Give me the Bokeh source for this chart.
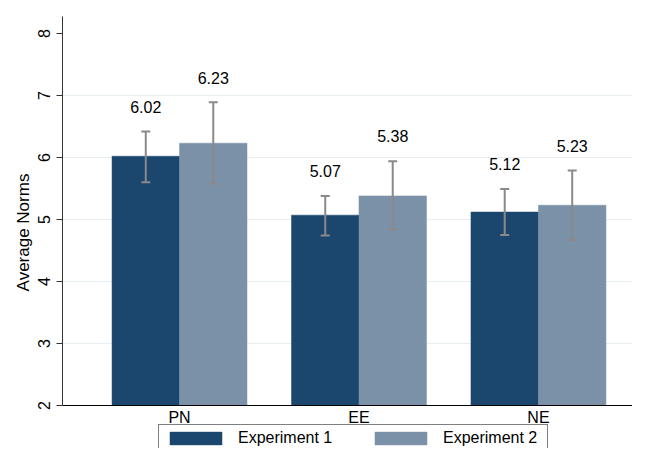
from bokeh.plotting import figure
from bokeh.models import (ColumnDataSource, Range1d, FixedTicker, Legend, LegendItem,
                          Whisker, LabelSet)
from bokeh.core.properties import value
from bokeh.embed import file_html
from bokeh.resources import INLINE

categories = ["PN", "EE", "NE"]
exp1_mean = [6.02, 5.07, 5.12]
exp1_lower = [5.60, 4.74, 4.75]
exp1_upper = [6.42, 5.38, 5.49]
exp2_mean = [6.23, 5.38, 5.23]
exp2_lower = [5.58, 4.84, 4.67]
exp2_upper = [6.89, 5.94, 5.79]
series_names = ["Experiment 1", "Experiment 2"]
y_ticks = [2, 3, 4, 5, 6, 7, 8]

FONT = "Liberation Sans"
C1 = "#1b476e"
C2 = "#7b91a8"
BAR_W = 0.376
LABEL_OFF = 0.40
Y_BASE = 2
Y_TOP = 8.274

centers = [i + 1 for i in range(len(categories))]

p = figure(width=632, height=448, output_backend="svg", toolbar_location=None,
           x_range=Range1d(0.348, 3.524), y_range=Range1d(1.306, Y_TOP),
           min_border_left=62, min_border_right=0, min_border_top=16,
           min_border_bottom=0)
p.outline_line_color = None
p.background_fill_color = "white"
p.border_fill_color = "white"

def make_src(means, lows, highs, shift):
    return ColumnDataSource(dict(
        x=[c + shift for c in centers],
        top=means,
        lower=lows,
        upper=highs,
        label_y=[h + LABEL_OFF for h in highs],
        label=["%.2f" % m for m in means],
    ))

s1 = make_src(exp1_mean, exp1_lower, exp1_upper, -BAR_W / 2)
s2 = make_src(exp2_mean, exp2_lower, exp2_upper, BAR_W / 2)

r1 = p.vbar(x="x", top="top", bottom=Y_BASE, width=BAR_W, source=s1,
            fill_color=C1, line_color=C1, line_width=0.5)
r2 = p.vbar(x="x", top="top", bottom=Y_BASE, width=BAR_W, source=s2,
            fill_color=C2, line_color=C2, line_width=0.5)

for s in (s1, s2):
    w = Whisker(base="x", lower="lower", upper="upper", source=s,
                line_color="#8a8a8a", line_width=2, level="overlay")
    for h in (w.upper_head, w.lower_head):
        h.size = 9
        h.line_color = "#8a8a8a"
        h.line_width = 2
    p.add_layout(w)
    ls = LabelSet(x="x", y="label_y", text="label", source=s,
                  text_align="center", text_baseline="middle",
                  text_font=value(FONT), text_font_size=value("16px"),
                  text_color="black")
    p.add_layout(ls)

# x axis drawn at y = 2 inside the frame
p.xaxis.fixed_location = Y_BASE
p.xaxis.ticker = FixedTicker(ticks=centers)
p.xaxis.major_label_overrides = {c: cat for c, cat in zip(centers, categories)}
p.xaxis.major_tick_out = 0
p.xaxis.major_tick_in = 0
p.xaxis.minor_tick_line_color = None
p.xaxis.axis_line_color = "black"
p.xaxis.major_label_text_font = FONT
p.xaxis.major_label_text_font_size = "16px"
p.xaxis.major_label_text_color = "black"
p.xaxis.major_label_standoff = 4

p.yaxis.ticker = FixedTicker(ticks=y_ticks)
p.yaxis.bounds = (Y_BASE, Y_TOP)
p.yaxis.major_tick_out = 6
p.yaxis.major_tick_in = 0
p.yaxis.minor_tick_line_color = None
p.yaxis.axis_line_color = "#333333"
p.yaxis.major_tick_line_color = "#333333"
p.yaxis.major_label_orientation = "vertical"
p.yaxis.major_label_text_font = FONT
p.yaxis.major_label_text_font_size = "16px"
p.yaxis.major_label_text_color = "black"
p.yaxis.major_label_standoff = 6
p.yaxis.axis_label = "Average Norms"
p.yaxis.axis_label_text_font = FONT
p.yaxis.axis_label_text_font_size = "17px"
p.yaxis.axis_label_text_font_style = "normal"
p.yaxis.axis_label_text_color = "black"
p.yaxis.axis_label_standoff = 3

p.xgrid.grid_line_color = None
p.ygrid.ticker = FixedTicker(ticks=y_ticks[1:-1])
p.ygrid.grid_line_color = "#e6eef0"
p.ygrid.grid_line_width = 1

legend = Legend(items=[LegendItem(label=series_names[0], renderers=[r1]),
                       LegendItem(label=series_names[1], renderers=[r2])],
                orientation="horizontal", location=(96, -4),
                glyph_width=65, glyph_height=16, label_standoff=10,
                spacing=30, padding=4, margin=0, label_width=100, label_height=16,
                border_line_color="black", border_line_width=1,
                label_text_font=FONT, label_text_font_size="16px",
                label_text_color="black", background_fill_color="white")
p.add_layout(legend, "center")

open("out.html", "w").write(file_html(p, INLINE))
